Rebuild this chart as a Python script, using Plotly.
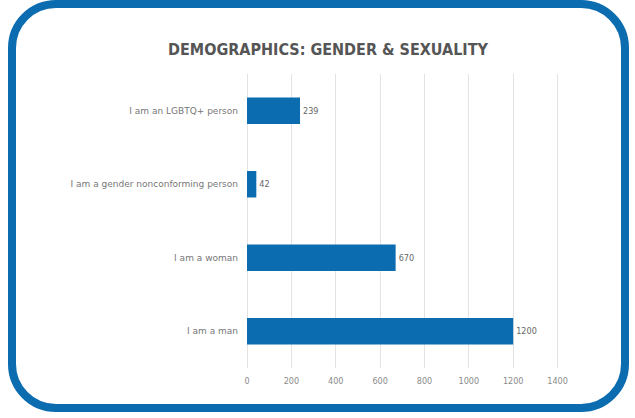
import plotly.graph_objects as go

# Survey responses
categories = [
    "I am a man",
    "I am a woman",
    "I am a gender nonconforming person",
    "I am an LGBTQ+ person",
]
counts = [1200, 670, 42, 239]
x_ticks = [0, 200, 400, 600, 800, 1000, 1200, 1400]

W, H = 635, 418
ML, MR, MT, MB = 247, 75, 74, 50
PW, PH = W - ML - MR, H - MT - MB

BLUE = "#0b6cb0"


def px(x):
    return (x - ML) / PW


def py(y):
    return 1 - (y - MT) / PH


def rounded_frame(x0, y0, x1, y1, r):
    k = 0.5523 * r
    pts = [
        f"M {px(x0 + r)} {py(y0)}",
        f"L {px(x1 - r)} {py(y0)}",
        f"C {px(x1 - r + k)} {py(y0)} {px(x1)} {py(y0 + r - k)} {px(x1)} {py(y0 + r)}",
        f"L {px(x1)} {py(y1 - r)}",
        f"C {px(x1)} {py(y1 - r + k)} {px(x1 - r + k)} {py(y1)} {px(x1 - r)} {py(y1)}",
        f"L {px(x0 + r)} {py(y1)}",
        f"C {px(x0 + r - k)} {py(y1)} {px(x0)} {py(y1 - r + k)} {px(x0)} {py(y1 - r)}",
        f"L {px(x0)} {py(y0 + r)}",
        f"C {px(x0)} {py(y0 + r - k)} {px(x0 + r - k)} {py(y0)} {px(x0 + r)} {py(y0)}",
        "Z",
    ]
    return " ".join(pts)


fig = go.Figure(
    go.Bar(
        x=counts,
        y=categories,
        orientation="h",
        marker=dict(color=BLUE, line=dict(width=0)),
        width=0.36,
        text=[str(v) for v in counts],
        textposition="outside",
        textfont=dict(family="DejaVu Sans Condensed, DejaVu Sans", size=9, color="#666666"),
        cliponaxis=False,
    )
)

fig.update_layout(
    width=W,
    height=H,
    margin=dict(l=ML, r=MR, t=MT, b=MB),
    paper_bgcolor="white",
    plot_bgcolor="white",
    showlegend=False,
    title=dict(
        text="<b>DEMOGRAPHICS: GENDER &amp; SEXUALITY</b>",
        x=(168 + 488) / 2 / W,
        xanchor="center",
        y=1 - 49 / H,
        yanchor="middle",
        font=dict(family="DejaVu Sans Condensed, DejaVu Sans", size=16, color="#555555"),
    ),
    xaxis=dict(
        range=[0, 1411],
        tickvals=x_ticks,
        ticktext=[str(v) for v in x_ticks],
        showgrid=True,
        gridcolor="#e3e3e3",
        gridwidth=1,
        zeroline=True,
        zerolinecolor="#e3e3e3",
        zerolinewidth=1,
        showline=False,
        ticks="",
        tickfont=dict(family="DejaVu Sans Condensed, DejaVu Sans", size=9, color="#8a8a8a"),
        ticklabelstandoff=6,
    ),
    yaxis=dict(
        range=[-0.5, 3.5],
        showgrid=False,
        showline=False,
        ticks="",
        tickfont=dict(family="DejaVu Sans", size=9, color="#777777"),
        ticklabelstandoff=8,
    ),
    shapes=[
        dict(
            type="path",
            xref="paper",
            yref="paper",
            path=rounded_frame(12, 4, 625, 408, 44),
            line=dict(color=BLUE, width=8),
            fillcolor="rgba(0,0,0,0)",
            layer="above",
        )
    ],
)

fig.write_html("out.html")
